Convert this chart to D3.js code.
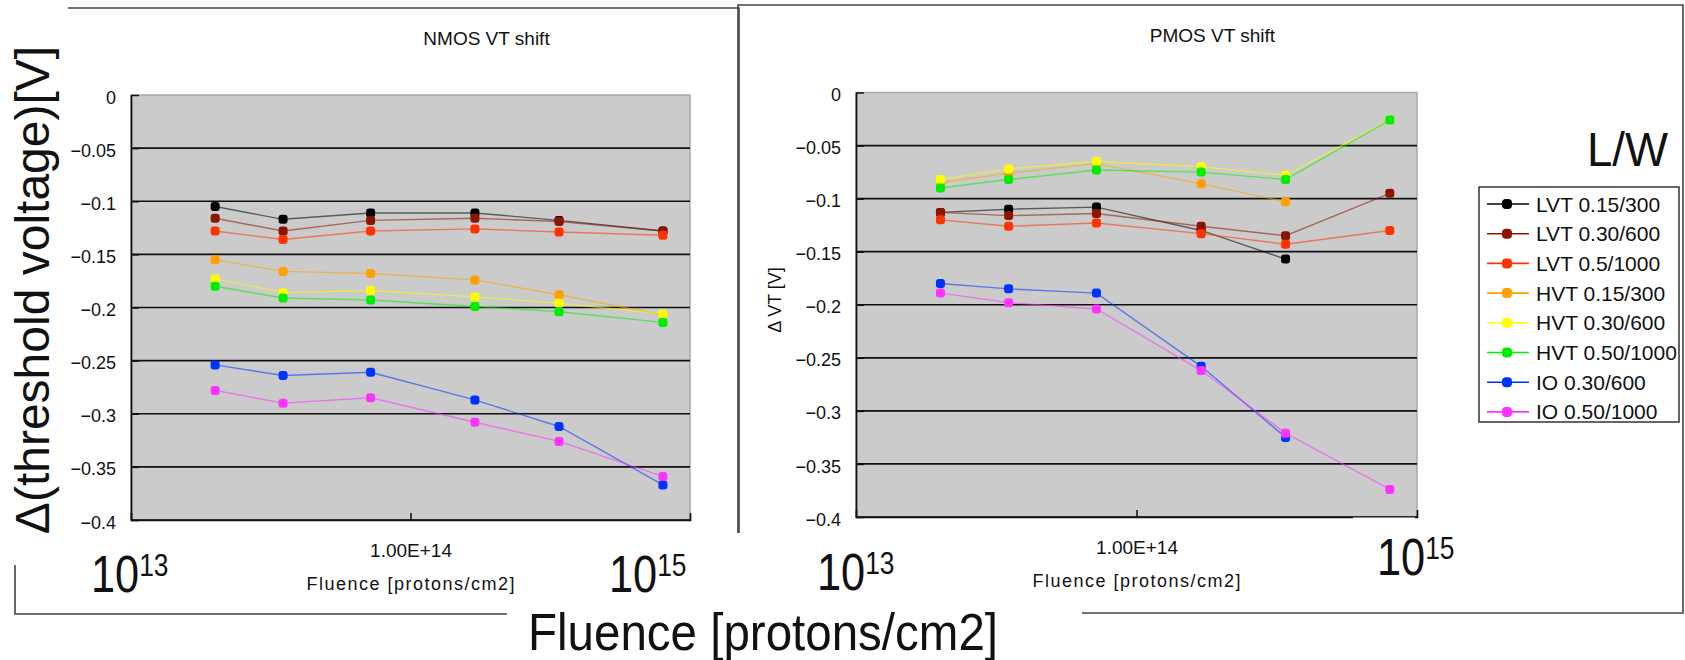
<!DOCTYPE html>
<html>
<head>
<meta charset="utf-8">
<script src="https://cdn.jsdelivr.net/npm/d3@7"></script>
<style>
body { margin: 0; background: #fff; }
svg text { font-family: "Liberation Sans", Arial, sans-serif; fill: #111; }
</style>
</head>
<body>
<div id="chart"></div>
<script>
// fluence points (protons/cm2)
var fluence = [2.0e13, 3.5e13, 7.2e13, 1.7e14, 3.4e14, 8.0e14];

var series_names = ['LVT 0.15/300', 'LVT 0.30/600', 'LVT 0.5/1000', 'HVT 0.15/300',
    'HVT 0.30/600', 'HVT 0.50/1000', 'IO 0.30/600', 'IO 0.50/1000'];
var series_colors = ['#000000', '#8b1500', '#ff3300', '#ffa000',
    '#ffff00', '#00ee00', '#0033ff', '#ff33ff'];

// NMOS VT shift [V]
var nmos_lvt_015 = [-0.105, -0.117, -0.111, -0.111, -0.118, -0.128];
var nmos_lvt_030 = [-0.116, -0.128, -0.118, -0.116, -0.119, -0.128];
var nmos_lvt_050 = [-0.128, -0.136, -0.128, -0.126, -0.129, -0.132];
var nmos_hvt_015 = [-0.155, -0.166, -0.168, -0.174, -0.188, -0.207];
var nmos_hvt_030 = [-0.173, -0.186, -0.184, -0.190, -0.196, -0.206];
var nmos_hvt_050 = [-0.180, -0.191, -0.193, -0.199, -0.204, -0.214];
var nmos_io_030 = [-0.254, -0.264, -0.261, -0.287, -0.312, -0.367];
var nmos_io_050 = [-0.278, -0.290, -0.285, -0.308, -0.326, -0.359];

// PMOS VT shift [V] (null = no point)
var pmos_lvt_015 = [-0.113, -0.110, -0.108, -0.130, -0.157, null];
var pmos_lvt_030 = [-0.113, -0.116, -0.114, -0.126, -0.135, -0.095];
var pmos_lvt_050 = [-0.120, -0.126, -0.123, -0.133, -0.143, -0.130];
var pmos_hvt_015 = [-0.085, -0.076, -0.067, -0.086, -0.103, null];
var pmos_hvt_030 = [-0.082, -0.072, -0.065, -0.070, -0.078, -0.026];
var pmos_hvt_050 = [-0.090, -0.082, -0.073, -0.075, -0.082, -0.026];
var pmos_io_030 = [-0.180, -0.185, -0.189, -0.258, -0.325, null];
var pmos_io_050 = [-0.189, -0.198, -0.204, -0.262, -0.321, -0.374];

var y_ticks = [0, -0.05, -0.1, -0.15, -0.2, -0.25, -0.3, -0.35, -0.4];
var x_ticks = [1e14];
var x_tick_labels = ['1.00E+14'];

var nmos_data = [nmos_lvt_015, nmos_lvt_030, nmos_lvt_050, nmos_hvt_015,
    nmos_hvt_030, nmos_hvt_050, nmos_io_030, nmos_io_050];
var pmos_data = [pmos_lvt_015, pmos_lvt_030, pmos_lvt_050, pmos_hvt_015,
    pmos_hvt_030, pmos_hvt_050, pmos_io_030, pmos_io_050];

var chart_width = 1685;
var chart_height = 660;

var svg = d3.select('#chart')
    .append('svg')
    .attr('width', chart_width)
    .attr('height', chart_height);

// panel frames
var frame = svg.append('g')
    .attr('fill', 'none')
    .attr('stroke', '#444')
    .attr('stroke-width', 1.6);
frame.append('path').attr('d', 'M68,8H739V533');
frame.append('path').attr('d', 'M738,533V5H1683V613H1082');
frame.append('path').attr('d', 'M15,565V614H507');

function drawPanel(cfg) {
    var x_scale = d3.scaleLog()
        .domain([1e13, 1e15])
        .range([cfg.left, cfg.right]);
    var y_scale = d3.scaleLinear()
        .domain([-0.4, 0])
        .range([cfg.bottom, cfg.top]);

    var g = svg.append('g');

    g.append('rect')
        .attr('x', cfg.left)
        .attr('y', cfg.top)
        .attr('width', cfg.right - cfg.left)
        .attr('height', cfg.bottom - cfg.top)
        .attr('fill', '#cbcbcb')
        .attr('stroke', '#a8a8a8')
        .attr('stroke-width', 1.5);

    // gridlines
    g.selectAll('line.grid')
        .data(y_ticks.filter(function(d){ return d < 0; }))
        .enter()
        .append('line')
        .attr('class', 'grid')
        .attr('x1', cfg.left)
        .attr('x2', cfg.right)
        .attr('y1', function(d){ return y_scale(d); })
        .attr('y2', function(d){ return y_scale(d); })
        .attr('stroke', '#111')
        .attr('stroke-width', 1.7);

    // axes
    var y_axis = d3.axisLeft(y_scale)
        .tickValues(y_ticks)
        .tickFormat(d3.format(''))
        .tickSizeInner(-8)
        .tickSizeOuter(0)
        .tickPadding(15);
    var ya = g.append('g')
        .attr('transform', 'translate(' + cfg.left + ',0)')
        .call(y_axis);
    ya.select('.domain').attr('stroke', '#111').attr('stroke-width', 1.7);
    ya.selectAll('.tick line').attr('stroke', '#111').attr('stroke-width', 1.5);
    ya.selectAll('.tick text')
        .attr('font-size', 18)
        .attr('dy', '0.45em')
        .attr('fill', '#111');

    var x_axis = d3.axisBottom(x_scale)
        .tickValues(x_ticks)
        .tickFormat(function(d, i){ return x_tick_labels[i]; })
        .tickSizeInner(-7)
        .tickSizeOuter(-7)
        .tickPadding(24);
    var xa = g.append('g')
        .attr('transform', 'translate(0,' + cfg.bottom + ')')
        .call(x_axis);
    xa.select('.domain').attr('stroke', '#111').attr('stroke-width', 1.7);
    xa.selectAll('.tick line').attr('stroke', '#111').attr('stroke-width', 1.5);
    xa.selectAll('.tick text')
        .attr('font-size', 19)
        .attr('fill', '#111');

    // title and small axis labels
    g.append('text')
        .attr('x', (cfg.left + cfg.right) / 2 + 76)
        .attr('y', cfg.titleY)
        .attr('text-anchor', 'middle')
        .attr('font-size', 19)
        .text(cfg.title);
    g.append('text')
        .attr('x', (cfg.left + cfg.right) / 2)
        .attr('y', cfg.bottom + 70)
        .attr('text-anchor', 'middle')
        .attr('font-size', 18)
        .attr('textLength', 208)
        .text('Fluence [protons/cm2]');
    if (cfg.yLabel) {
        g.append('text')
            .attr('transform', 'translate(' + cfg.yLabelX + ',' + cfg.yLabelY + ') rotate(-90)')
            .attr('text-anchor', 'middle')
            .attr('font-size', 18)
            .text(cfg.yLabel);
    }

    // series
    var line = d3.line()
        .defined(function(d){ return d.v !== null; })
        .x(function(d){ return x_scale(d.f); })
        .y(function(d){ return y_scale(d.v); });

    cfg.data.forEach(function(values, i){
        var pts = values.map(function(v, j){ return {f: fluence[j], v: v}; });
        g.append('path')
            .datum(pts)
            .attr('fill', 'none')
            .attr('stroke', series_colors[i])
            .attr('stroke-opacity', 0.55)
            .attr('stroke-width', 1.4)
            .attr('d', line);
        g.selectAll('rect.m' + i)
            .data(pts.filter(function(d){ return d.v !== null; }))
            .enter()
            .append('rect')
            .attr('class', 'm' + i)
            .attr('x', function(d){ return x_scale(d.f) - 4.5; })
            .attr('y', function(d){ return y_scale(d.v) - 4.5; })
            .attr('width', 9)
            .attr('height', 9)
            .attr('rx', 3)
            .attr('fill', series_colors[i]);
    });
}

drawPanel({left: 131, right: 690, top: 95, bottom: 520, title: 'NMOS VT shift',
    titleY: 45, data: nmos_data});
drawPanel({left: 856, right: 1417, top: 92.5, bottom: 517, title: 'PMOS VT shift',
    titleY: 42, data: pmos_data, yLabel: '\u0394 VT [V]', yLabelX: 781, yLabelY: 300});

// white box behind the right 10^15 label hides part of the axis
svg.append('rect')
    .attr('x', 1353).attr('y', 517.5).attr('width', 62).attr('height', 60)
    .attr('fill', '#fff');

// large overlay annotations
function powerLabel(x, y, exp) {
    var t = svg.append('text')
        .attr('transform', 'translate(' + x + ',' + y + ') scale(0.85,1)')
        .attr('fill', '#000');
    t.append('tspan').attr('font-size', 51).text('10');
    t.append('tspan').attr('font-size', 31).attr('dy', -16).text(exp);
}
powerLabel(91, 592, '13');
powerLabel(609, 592, '15');
powerLabel(817, 590, '13');
powerLabel(1377, 575, '15');

svg.append('text')
    .attr('transform', 'translate(49,290) rotate(-90)')
    .attr('text-anchor', 'middle')
    .attr('font-size', 48)
    .attr('fill', '#000')
    .text('\u0394(threshold voltage)[V]');

svg.append('text')
    .attr('x', 528)
    .attr('y', 650)
    .attr('font-size', 52)
    .attr('textLength', 470)
    .attr('lengthAdjust', 'spacingAndGlyphs')
    .attr('fill', '#000')
    .text('Fluence [protons/cm2]');

svg.append('text')
    .attr('transform', 'translate(1668,166) scale(0.95,1)')
    .attr('text-anchor', 'end')
    .attr('font-size', 48)
    .attr('fill', '#000')
    .text('L/W');

// legend
var legend = svg.append('g');
legend.append('rect')
    .attr('x', 1479).attr('y', 187).attr('width', 200).attr('height', 235)
    .attr('fill', '#fff').attr('stroke', '#333').attr('stroke-width', 1.5);
var items = legend.selectAll('g.item')
    .data(series_names)
    .enter()
    .append('g')
    .attr('class', 'item')
    .attr('transform', function(d, i){ return 'translate(0,' + (204 + i * 29.7) + ')'; });
items.append('line')
    .attr('x1', 1487).attr('x2', 1529)
    .attr('stroke', function(d, i){ return series_colors[i]; })
    .attr('stroke-width', 1.6);
items.append('rect')
    .attr('x', 1502).attr('y', -5).attr('width', 10).attr('height', 10).attr('rx', 4)
    .attr('fill', function(d, i){ return series_colors[i]; });
items.append('text')
    .attr('x', 1536)
    .attr('dy', '0.36em')
    .attr('font-size', 21)
    .text(function(d){ return d; });
</script>
</body>
</html>
